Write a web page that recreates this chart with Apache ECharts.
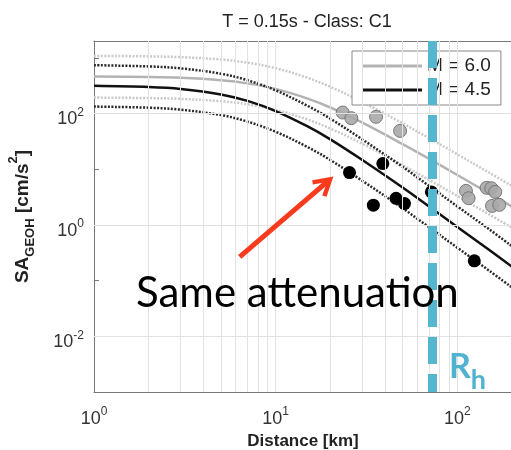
<!DOCTYPE html>
<html>
<head>
<meta charset="utf-8">
<script src="https://cdn.jsdelivr.net/npm/echarts@6/dist/echarts.min.js"></script>
<style>html,body{margin:0;padding:0;background:#fff;}#c{width:511px;height:450px;}</style>
</head>
<body>
<div id="c"></div>
<script>
// ---- data ----
const distance = [1, 2, 3, 5, 7, 10, 15, 20, 30, 50, 70, 100, 150, 200];
const m60Upper  = [1081, 1060, 1026, 931, 817, 651, 437, 301, 161, 66.5, 36.0, 18.5, 8.63, 5.01];
const m60Median = [459, 450, 436, 395, 347, 276, 185, 128, 68.4, 28.2, 15.3, 7.86, 3.66, 2.13];
const m60Lower  = [193, 189, 183, 166, 146, 116, 77.8, 53.6, 28.7, 11.8, 6.41, 3.30, 1.54, 0.892];
const m45Upper  = [736, 699, 646, 517, 395, 260, 137, 80.6, 34.2, 11.0, 5.0, 2.15, 0.83, 0.415];
const m45Median = [313, 298, 275, 220, 168, 110.5, 58.5, 34.3, 14.6, 4.68, 2.13, 0.917, 0.353, 0.177];
const m45Lower  = [133, 127, 117, 93.6, 71.5, 47.0, 24.9, 14.6, 6.20, 1.99, 0.905, 0.39, 0.150, 0.0752];
const m45Obs = [[25.5, 8.7], [38.9, 12.6], [34.5, 2.26], [46, 3.0], [51.2, 2.41], [72, 3.9], [124, 0.226]];
const m60Obs = [[23.4, 104], [26.1, 82.4], [35.7, 86.9], [48.4, 48.7], [111.6, 4.08], [115.4, 3.01],
                [144.9, 4.62], [153.8, 4.56], [161.7, 3.91], [155.2, 2.19], [170.1, 2.29]];
const rh = 73;
const xGridValues = [2, 3, 4, 5, 6, 7, 8, 9, 10, 20, 30, 40, 50, 60, 70, 80, 90, 100, 200];
const yGridValues = [0.01, 1, 100];
const arrowTail = [6.34, 0.267];
const arrowHead = [18.7, 5.51];
const xRange = [1, 200];
const yRange = [0.001, 2000];
const titleText = 'T = 0.15s - Class: C1';
const xName = 'Distance [km]';
const legendNames = ['M = 6.0', 'M = 4.5'];
const annotationText = 'Same attenuation';

// ---- chart ----
const pair = (ys) => distance.map((d, i) => [d, ys[i]]);
const chart = echarts.init(document.getElementById('c'), null, {renderer: 'canvas'});
const FONT = '"Liberation Sans", Arial, sans-serif';
const tickRich = {
  b: {fontSize: 18, fontFamily: FONT, color: '#333', verticalAlign: 'bottom', lineHeight: 30},
  s: {fontSize: 12, fontFamily: FONT, color: '#333', verticalAlign: 'bottom', padding: [0, 0, 10, 0], lineHeight: 14}
};
const expLabel = (v, onlyEven) => {
  const l = Math.log10(v);
  const e = Math.round(l);
  if (Math.abs(l - e) > 1e-6) return '';
  if (onlyEven && e % 2 !== 0) return '';
  return '{b|10}{s|' + e + '}';
};
const curve = (name, data, color, type, width, z) => ({
  name, type: 'line', data: pair(data), smooth: 0.35, symbol: 'none', showSymbol: false, z: z || 2,
  lineStyle: {color, type, width}, itemStyle: {color}, emphasis: {disabled: true}, silent: true
});

const option = {
  animation: false,
  backgroundColor: '#fff',
  title: {
    text: titleText, left: 302, top: 8, textAlign: 'center',
    textStyle: {fontFamily: FONT, fontSize: 18, fontWeight: 'normal', color: '#222'}
  },
  grid: {left: 94, top: 41, width: 418, height: 351, containLabel: false, outerBoundsMode: 'none'},
  legend: {
    data: legendNames, orient: 'vertical', left: 352, top: 51, z: 3,
    padding: [4, 10, 4, 10], itemGap: 2, itemWidth: 60, itemHeight: 3, icon: 'rect',
    borderColor: '#888', borderWidth: 1, backgroundColor: '#fff', borderRadius: 0,
    textStyle: {fontFamily: FONT, fontSize: 19, color: '#222', lineHeight: 22}, selectedMode: false
  },
  xAxis: [{
    type: 'log', logBase: 10, min: xRange[0], max: xRange[1],
    name: xName, nameLocation: 'middle', nameGap: 40,
    nameTextStyle: {fontFamily: FONT, fontSize: 17, fontWeight: 'bold', color: '#222'},
    axisLine: {show: true, lineStyle: {color: '#777', width: 1}},
    axisTick: {show: true, inside: true, length: 5, lineStyle: {color: '#777'}},
    axisLabel: {margin: 6, formatter: (v) => expLabel(v, false), rich: tickRich, showMaxLabel: false},
    splitLine: {show: false}, minorTick: {show: false}
  }, {
    type: 'log', logBase: 10, min: xRange[0], max: xRange[1], position: 'top',
    axisLine: {show: true, lineStyle: {color: '#777', width: 1}},
    axisTick: {show: true, inside: true, length: 5, lineStyle: {color: '#777'}},
    axisLabel: {show: false}, splitLine: {show: false}
  }],
  yAxis: {
    type: 'log', logBase: 10, min: yRange[0], max: yRange[1],
    name: '{a|SA}{sub|GEOH}{a| [cm/s}{sup|2}{a|]}', nameLocation: 'middle', nameGap: 57, nameRotate: 90,
    nameTextStyle: {
      rich: {
        a: {fontFamily: FONT, fontSize: 19, fontWeight: 'bold', color: '#222', verticalAlign: 'bottom', padding: [0, 0, 5, 0]},
        sub: {fontFamily: FONT, fontSize: 13, fontWeight: 'bold', color: '#222', verticalAlign: 'bottom'},
        sup: {fontFamily: FONT, fontSize: 13, fontWeight: 'bold', color: '#222', verticalAlign: 'bottom', padding: [0, 0, 17, 0]}
      }
    },
    axisLine: {show: true, lineStyle: {color: '#777', width: 1}},
    axisTick: {show: true, inside: true, length: 5, lineStyle: {color: '#777'}},
    axisLabel: {margin: 10, formatter: (v) => expLabel(v, true), rich: tickRich},
    splitLine: {show: false}
  },
  series: [
    Object.assign(curve('gridlines', [], '#ddd', 'solid', 1, 1), {
      data: [],
      markLine: {
        silent: true, symbol: ['none', 'none'], label: {show: false}, animation: false,
        lineStyle: {color: '#e2e2e2', type: 'solid', width: 1},
        data: xGridValues.map(v => ({xAxis: v})).concat(yGridValues.map(v => ({yAxis: v})))
      }
    }),
    curve('m60u', m60Upper, '#c9c9c9', [2, 1.5], 2.5),
    curve('m60l', m60Lower, '#c9c9c9', [2, 1.5], 2.5),
    curve(legendNames[0], m60Median, '#b3b3b3', 'solid', 2.5),
    curve('m45u', m45Upper, '#2a2a2a', [2, 1.5], 2.5),
    curve('m45l', m45Lower, '#2a2a2a', [2, 1.5], 2.5),
    curve(legendNames[1], m45Median, '#111', 'solid', 2.5),
    {
      name: 'obs60', type: 'scatter', data: m60Obs, symbolSize: 13, z: 4, silent: true,
      itemStyle: {color: '#a8a8a8', borderColor: '#6f6f6f', borderWidth: 1, opacity: 0.9}
    },
    {
      name: 'obs45', type: 'scatter', data: m45Obs, symbolSize: 13, z: 4, silent: true,
      itemStyle: {color: '#000', opacity: 1}
    },
    {
      name: 'arrow', type: 'line', data: [], silent: true, z: 6,
      markLine: {
        silent: true, animation: false, label: {show: false},
        symbol: ['none', 'path://M11,0L22,18.5L18.2,20.8L11,8.5L3.8,20.8L0,18.5Z M9,4L13,4L13,22L9,22Z'],
        symbolSize: 22,
        lineStyle: {color: '#fa3a1c', width: 5, type: 'solid', opacity: 1},
        itemStyle: {color: '#fa3a1c'},
        data: [[{coord: arrowTail}, {coord: arrowHead}]]
      }
    },
    {
      name: 'Rh', type: 'line', data: [[rh, yRange[1]], [rh, yRange[0]]], symbol: 'none', showSymbol: false, z: 10, silent: true,
      lineStyle: {color: '#56b5cf', width: 9, type: [27, 10]}
    }
  ],
  graphic: [
    {
      type: 'text', left: 136, top: 272, z: 20, silent: true,
      style: {text: annotationText, font: '42px Lato, "Open Sans", sans-serif', fill: '#000'}
    },
    {
      type: 'text', left: 449, top: 350, z: 20, silent: true,
      style: {
        text: '{r|R}{h|h}',
        rich: {
          r: {font: 'bold 34px Lato, "Open Sans", sans-serif', fill: '#4fb3cf', verticalAlign: 'bottom', padding: [0, 0, 10, 0]},
          h: {font: 'bold 27px Lato, "Open Sans", sans-serif', fill: '#4fb3cf', verticalAlign: 'bottom'}
        }
      }
    }
  ]
};
chart.setOption(option);
</script>
</body>
</html>
